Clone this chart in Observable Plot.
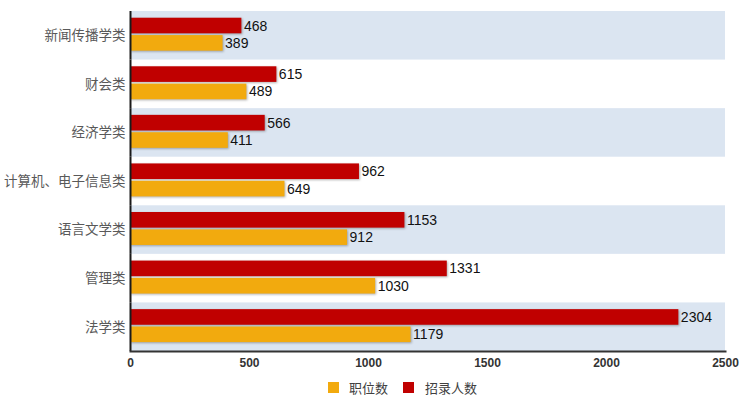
<!DOCTYPE html>
<html>
<head>
<meta charset="utf-8">
<script src="https://cdn.jsdelivr.net/npm/d3@7"></script>
<script src="https://cdn.jsdelivr.net/npm/@observablehq/plot@0.6"></script>
<style>
  body { margin: 0; background: #fff; font-family: "Liberation Sans", "Noto Sans CJK SC", sans-serif; }
  #chart { position: relative; width: 745px; }
  .legend { position: relative; height: 23px; font-size: 13px; color: #404040; }
  .legend .sw { position: absolute; top: 10px; width: 11px; height: 11px; }
  .legend .lb { position: absolute; top: 6px; }
</style>
</head>
<body>
<div id="chart"></div>
<script>
const categories = ["新闻传播学类", "财会类", "经济学类", "计算机、电子信息类", "语言文学类", "管理类", "法学类"];
const positions = [389, 489, 411, 649, 912, 1030, 1179];   // 职位数
const hires = [468, 615, 566, 962, 1153, 1331, 2304];      // 招录人数
const seriesNames = ["招录人数", "职位数"];
const seriesColors = { "职位数": "#f2aa0e", "招录人数": "#c00000" };
const xTicks = [0, 500, 1000, 1500, 2000, 2500];

const data = categories.flatMap((c, i) => [
  { cat: c, series: "招录人数", value: hires[i] },
  { cat: c, series: "职位数", value: positions[i] }
]);
const bandCats = categories.filter((c, i) => i % 2 === 0);

const chart = Plot.plot({
  width: 745,
  height: 372,
  marginTop: 11,
  marginBottom: 21,
  marginLeft: 130,
  marginRight: 20,
  style: { fontFamily: "'Liberation Sans', 'Noto Sans CJK SC', sans-serif", fontSize: "13px", background: "#fff" },
  x: { domain: [0, 2500], axis: null },
  y: { domain: seriesNames, paddingInner: 0.1, paddingOuter: 0.45, align: 0.43, round: false, axis: null },
  fy: { domain: categories, padding: 0, round: false, axis: null },
  color: { domain: ["职位数", "招录人数"], range: ["#f2aa0e", "#c00000"] },
  marks: [
    Plot.rect(bandCats, { fy: d => d, x1: () => 0, x2: () => 2500, fill: "#dbe5f1" }),
    Plot.barX(data, {
      fy: "cat", y: "series", x: "value", fill: "series",
      imageFilter: "drop-shadow(1px 1.5px 1px rgba(0,0,0,0.3))"
    }),
    Plot.text(data, {
      fy: "cat", y: "series", x: "value", text: d => String(d.value),
      textAnchor: "start", dx: 2, fill: "#111", fontSize: 14
    }),
    Plot.ruleX([0], { stroke: "#1a1a1a", strokeWidth: 2 }),
    Plot.axisFy({ anchor: "left", tickSize: 0, tickPadding: 5, fontSize: 13.5, color: "#595959", label: null }),
    Plot.axisX({ ticks: xTicks, tickFormat: d => String(d), tickSize: 0, tickPadding: 7, fontWeight: "bold", fontSize: 12, color: "#333", label: null }),
    Plot.frame({ anchor: "bottom", facetAnchor: "bottom", stroke: "#333", strokeWidth: 2 })
  ]
});

const root = document.getElementById("chart");
root.appendChild(chart);

const legend = document.createElement("div");
legend.className = "legend";
const items = [
  { name: "职位数", sx: 328, tx: 349 },
  { name: "招录人数", sx: 403, tx: 425 }
];
for (const it of items) {
  const sw = document.createElement("div");
  sw.className = "sw";
  sw.style.left = it.sx + "px";
  sw.style.background = seriesColors[it.name];
  const lb = document.createElement("div");
  lb.className = "lb";
  lb.style.left = it.tx + "px";
  lb.textContent = it.name;
  legend.appendChild(sw);
  legend.appendChild(lb);
}
root.appendChild(legend);
</script>
</body>
</html>
